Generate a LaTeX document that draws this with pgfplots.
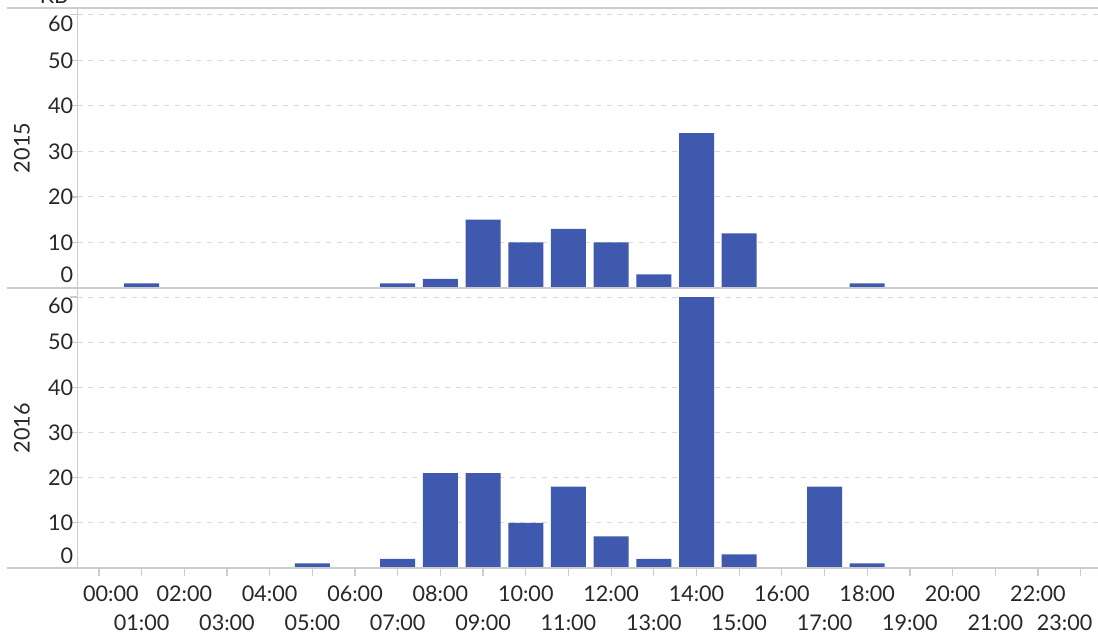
\documentclass[border=0pt]{standalone}
\usepackage{pgfplots}
\pgfplotsset{compat=1.18}
\usepackage{fontspec}
\setmainfont{Lato}

\definecolor{barblue}{RGB}{62,89,174}
\definecolor{axisgray}{RGB}{204,204,204}
\definecolor{gridgray}{RGB}{218,218,218}
\definecolor{txt}{RGB}{40,40,40}

\pgfplotsset{
  panel/.style={
    width=512.2pt, height=140pt, scale only axis,
    anchor=south west,
    xmin=-0.5, xmax=23.5, ymin=0,
    clip=false,
    axis line style={draw=none},
    ybar, bar width=17.5pt, bar shift=0pt,
    ytick={10,20,30,40,50},
    extra y ticks={0,60},
    extra y tick labels={\raisebox{2.5pt}{0},\raisebox{-8.25pt}{60}},
    extra y tick style={yticklabel style={anchor=base east}},
    ymajorgrids,
    grid style={gridgray, line width=0.5pt, dash pattern=on 2.5pt off 2.9pt},
    tick align=outside, major tick length=4pt,
    tick style={axisgray, line width=0.6pt},
    xtick pos=lower, ytick pos=left,
    font=\fontsize{10.8}{12}\selectfont,
    tick label style={txt},
    yticklabel style={anchor=east, inner xsep=0pt, xshift=2pt},
    /pgf/number format/assume math mode=true,
  }
}

\begin{document}
\begin{tikzpicture}
% 2015
\begin{axis}[panel, at={(38.8pt,-144pt)}, ymax=61.5, xtick=\empty]
  \addplot[fill=barblue, draw=none] coordinates {
    (0,0) (1,1) (2,0) (3,0) (4,0) (5,0) (6,0) (7,1)
    (8,2) (9,15) (10,10) (11,13) (12,10) (13,3) (14,34) (15,12)
    (16,0) (17,0) (18,1) (19,0) (20,0) (21,0) (22,0) (23,0)
  };
  \draw[axisgray, line width=0.75pt] ([xshift=-35.3pt]rel axis cs:0,0) -- (rel axis cs:1,0);
  \draw[axisgray, line width=0.75pt] ([xshift=-35.3pt]rel axis cs:0,1) -- (rel axis cs:1,1);
  \draw[axisgray, line width=0.6pt] (rel axis cs:0,0) -- (rel axis cs:0,1);
  \node[rotate=90, txt, font=\fontsize{10.8}{12}\selectfont] at ([xshift=-27.8pt]rel axis cs:0,0.5) {2015};
\end{axis}
% 2016
\begin{axis}[panel, at={(38.8pt,-284pt)}, ymax=62,
  xtick={0,2,...,22},
  xticklabels={\hspace*{12pt}00:00,02:00,04:00,06:00,08:00,10:00,12:00,14:00,16:00,18:00,20:00,22:00},
  extra x ticks={1,3,...,23},
  extra x tick labels={01:00,03:00,05:00,07:00,09:00,11:00,13:00,15:00,17:00,19:00,21:00,23:00\hspace*{16pt}},
  xticklabel style={anchor=base, yshift=-13pt},
  extra x tick style={xticklabel style={yshift=-14pt}},
]
  \addplot[fill=barblue, draw=none] coordinates {
    (0,0) (1,0) (2,0) (3,0) (4,0) (5,1) (6,0) (7,2)
    (8,21) (9,21) (10,10) (11,18) (12,7) (13,2) (14,60) (15,3)
    (16,0) (17,18) (18,1) (19,0) (20,0) (21,0) (22,0) (23,0)
  };
  \draw[axisgray, line width=0.75pt] ([xshift=-35.3pt]rel axis cs:0,0) -- (rel axis cs:1,0);
  \draw[axisgray, line width=0.6pt] (rel axis cs:0,0) -- (rel axis cs:0,1);
  \node[rotate=90, txt, font=\fontsize{10.8}{12}\selectfont] at ([xshift=-27.8pt]rel axis cs:0,0.5) {2016};
\end{axis}
\node[anchor=base, txt, font=\fontsize{10.8}{12}\selectfont] at (27pt,-1.75pt) {KB};
\pgfresetboundingbox
\useasboundingbox (0,0) rectangle (549pt,-317.5pt);
\end{tikzpicture}
\end{document}
